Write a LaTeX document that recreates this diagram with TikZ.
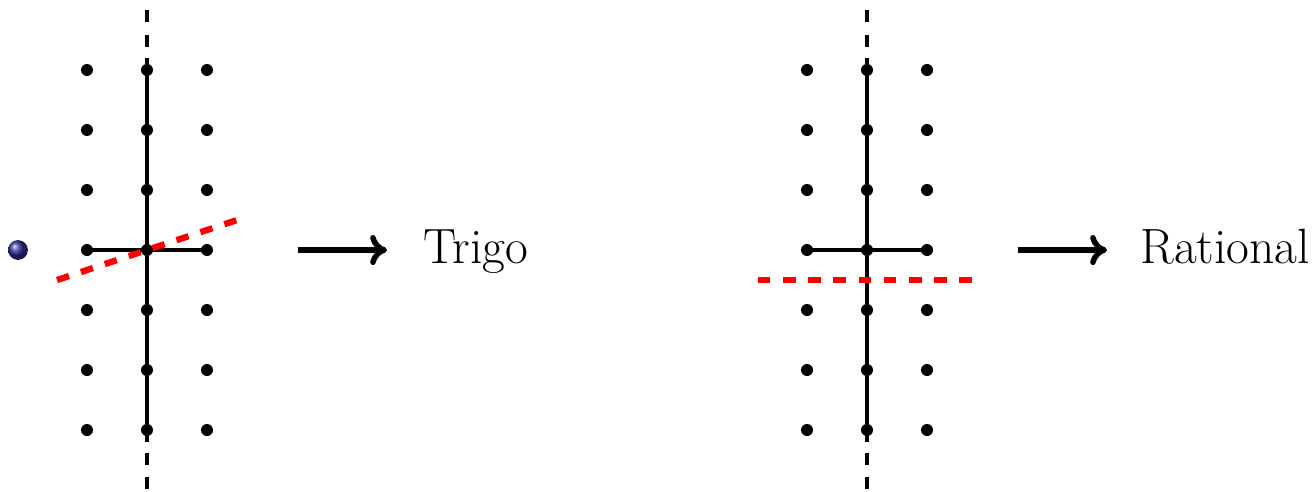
\documentclass[tikz,border=0pt]{standalone}
\usetikzlibrary{arrows.meta}
\definecolor{ballblue}{RGB}{45,45,150}
\begin{document}
\begin{tikzpicture}[x=1cm,y=1cm,
  dot/.style={circle,fill=black,inner sep=0pt,minimum size=0.2cm},
  axis/.style={line width=1.8pt},
  dashaxis/.style={line width=1.8pt,dash pattern=on 0.2cm off 0.21cm},
  cut/.style={red,line width=3pt,dash pattern=on 0.21cm off 0.21cm},
  bigarrow/.style={line width=2.6pt,-{Computer Modern Rightarrow[length=0.28cm,width=0.5cm]}},
  lbl/.style={anchor=base west,inner sep=0pt,font=\fontsize{23.5pt}{28pt}\selectfont}]
\useasboundingbox (-2.45,-4.0167) rectangle (19.4833,4.1667);
% ---------- left panel ----------
\coordinate (Ltop) at (0,4);
\coordinate (Lbot) at (0,-4.05);
\coordinate (Lst) at (0,3.2);
\coordinate (Lsb) at (0,-3.2);
\draw[dashaxis] (Ltop) -- (Lbot);
\draw[axis] (Lst) -- (Lsb);
\draw[axis] (-1,0) -- (1,0);
\coordinate (Lr1) at (-1.5,-0.5);
\coordinate (Lr2) at (1.5,0.5);
\draw[cut] (Lr1) -- (Lr2);
\foreach \j in {1,...,7} {
  \node[dot] (La\j) at (-1,\j-4) {};
  \node[dot] (Lb\j) at (0,\j-4) {};
  \node[dot] (Lc\j) at (1,\j-4) {};
}
\node[circle,shading=ball,ball color=ballblue,minimum size=0.33cm,inner sep=0pt] (ball) at (-2.15,0) {};
\coordinate (La1s) at (2.52,0);
\coordinate (La1e) at (4.0,0);
\draw[bigarrow] (La1s) -- (La1e);
\node[lbl] (trigo) at (4.6,-0.22) {Trigo};
% ---------- right panel ----------
\coordinate (Rtop) at (12,4);
\coordinate (Rbot) at (12,-4.05);
\coordinate (Rst) at (12,3.2);
\coordinate (Rsb) at (12,-3.2);
\draw[dashaxis] (Rtop) -- (Rbot);
\draw[axis] (Rst) -- (Rsb);
\draw[axis] (11,0) -- (13,0);
\coordinate (Rr1) at (10.18,-0.5);
\coordinate (Rr2) at (13.8,-0.5);
\draw[cut] (Rr1) -- (Rr2);
\foreach \j in {1,...,7} {
  \node[dot] (Ra\j) at (11,\j-4) {};
  \node[dot] (Rb\j) at (12,\j-4) {};
  \node[dot] (Rc\j) at (13,\j-4) {};
}
\coordinate (Ra1s) at (14.52,0);
\coordinate (Ra1e) at (16.0,0);
\draw[bigarrow] (Ra1s) -- (Ra1e);
\node[lbl] (rational) at (16.55,-0.22) {Rational};
\end{tikzpicture}
\end{document}
